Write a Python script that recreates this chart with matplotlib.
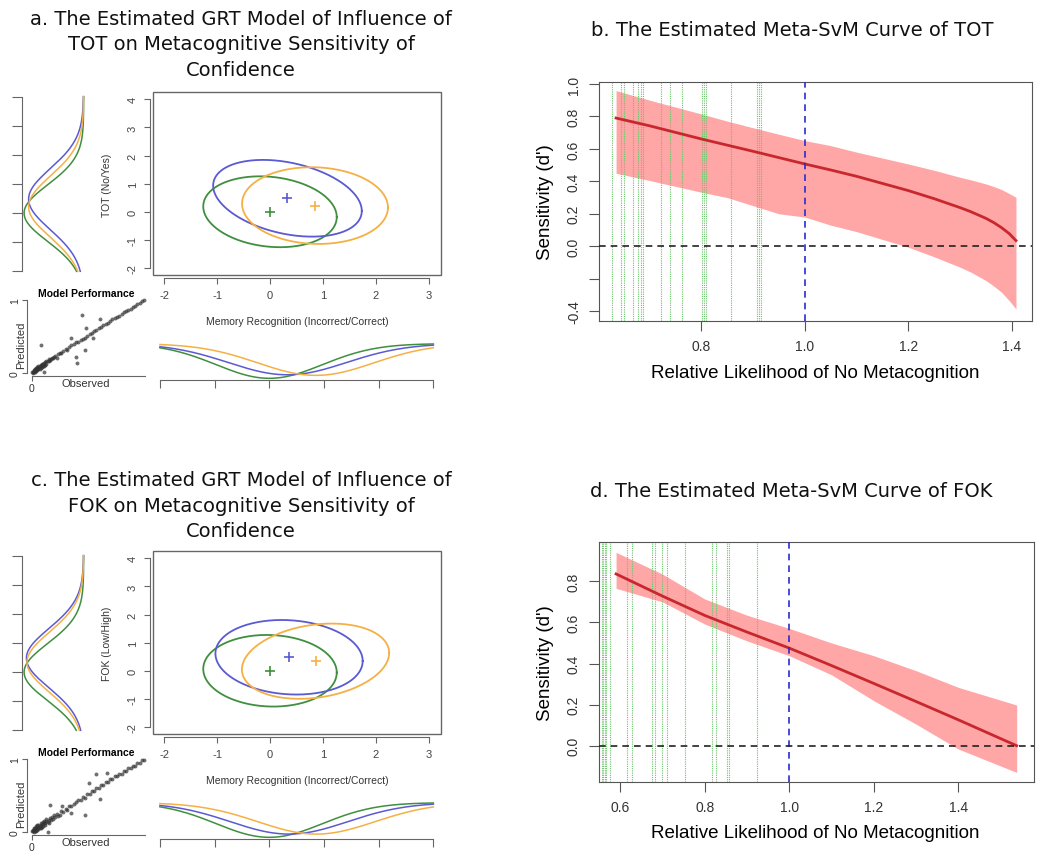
import numpy as np
import matplotlib
matplotlib.use('Agg')
import matplotlib.pyplot as plt
from matplotlib.patches import Rectangle

plt.rcParams['font.family'] = ['Liberation Sans', 'DejaVu Sans']
plt.rcParams['axes.unicode_minus'] = False

# ---- GRT model parameters (green, blue, orange) ----
grt_colors = ['#3f8f3f', '#5a5ad2', '#f5b045']
a_mx = [0.00, 0.33, 0.85]
a_my = [0.00, 0.48, 0.22]
a_sx = [0.97, 1.08, 1.06]
a_sy = [0.97, 1.05, 1.05]
a_rho = [-0.15, -0.33, -0.05]

c_mx = [0.00, 0.36, 0.86]
c_my = [0.00, 0.48, 0.34]
c_sx = [0.97, 1.07, 1.07]
c_sy = [0.98, 1.02, 1.03]
c_rho = [-0.05, -0.10, 0.22]

# model performance: observed vs predicted
a_obs = [0.00, 0.01, 0.01, 0.02, 0.02, 0.02, 0.03, 0.03, 0.03, 0.04,
         0.04, 0.04, 0.05, 0.05, 0.05, 0.06, 0.06, 0.06, 0.07, 0.07,
         0.08, 0.08, 0.08, 0.09, 0.09, 0.10, 0.10, 0.11, 0.11, 0.12,
         0.12, 0.13, 0.13, 0.14, 0.15, 0.15, 0.16, 0.17, 0.18, 0.19,
         0.20, 0.21, 0.22, 0.23, 0.25, 0.26, 0.28, 0.30, 0.31, 0.33,
         0.35, 0.37, 0.39, 0.41, 0.43, 0.45, 0.47, 0.49, 0.51, 0.53,
         0.55, 0.57, 0.59, 0.61, 0.63, 0.65, 0.67, 0.69, 0.71, 0.73,
         0.75, 0.77, 0.79, 0.81, 0.83, 0.85, 0.87, 0.89, 0.91, 0.93,
         0.95, 0.97, 0.99, 0.44, 0.08, 0.48, 0.39, 0.40, 0.35, 0.54,
         0.47, 0.11, 0.60]
a_pred = [0.01, 0.02, 0.00, 0.04, 0.01, 0.03, 0.05, 0.02, 0.04, 0.07,
          0.03, 0.05, 0.08, 0.04, 0.06, 0.09, 0.05, 0.07, 0.10, 0.06,
          0.11, 0.07, 0.09, 0.12, 0.08, 0.13, 0.09, 0.14, 0.10, 0.15,
          0.11, 0.16, 0.12, 0.17, 0.16, 0.19, 0.18, 0.19, 0.20, 0.21,
          0.22, 0.23, 0.21, 0.26, 0.27, 0.28, 0.30, 0.33, 0.31, 0.36,
          0.38, 0.40, 0.42, 0.43, 0.45, 0.47, 0.48, 0.51, 0.53, 0.55,
          0.57, 0.59, 0.61, 0.63, 0.66, 0.67, 0.69, 0.71, 0.74, 0.75,
          0.77, 0.78, 0.81, 0.83, 0.85, 0.86, 0.88, 0.90, 0.92, 0.94,
          0.96, 0.98, 1.00, 0.80, 0.38, 0.61, 0.22, 0.14, 0.48, 0.48,
          0.31, 0.01, 0.74]
c_obs = [0.00, 0.01, 0.01, 0.02, 0.02, 0.02, 0.03, 0.03, 0.03, 0.04,
         0.04, 0.04, 0.05, 0.05, 0.05, 0.06, 0.06, 0.06, 0.07, 0.07,
         0.08, 0.08, 0.08, 0.09, 0.09, 0.10, 0.10, 0.11, 0.11, 0.12,
         0.12, 0.13, 0.13, 0.14, 0.15, 0.15, 0.16, 0.17, 0.18, 0.19,
         0.20, 0.21, 0.22, 0.23, 0.25, 0.26, 0.28, 0.30, 0.31, 0.33,
         0.35, 0.37, 0.39, 0.41, 0.43, 0.45, 0.47, 0.49, 0.51, 0.53,
         0.55, 0.57, 0.59, 0.61, 0.63, 0.65, 0.67, 0.69, 0.71, 0.73,
         0.75, 0.77, 0.79, 0.81, 0.83, 0.85, 0.87, 0.89, 0.91, 0.93,
         0.95, 0.97, 0.99, 0.57, 0.66, 0.16, 0.27, 0.47, 0.35, 0.50,
         0.14, 0.60]
c_pred = [0.02, 0.01, 0.03, 0.03, 0.00, 0.05, 0.04, 0.01, 0.06, 0.05,
          0.02, 0.08, 0.06, 0.03, 0.09, 0.07, 0.04, 0.10, 0.08, 0.05,
          0.10, 0.06, 0.12, 0.11, 0.07, 0.14, 0.08, 0.12, 0.15, 0.13,
          0.10, 0.15, 0.18, 0.14, 0.17, 0.13, 0.19, 0.16, 0.21, 0.18,
          0.23, 0.20, 0.25, 0.22, 0.24, 0.29, 0.27, 0.32, 0.30, 0.35,
          0.36, 0.39, 0.41, 0.44, 0.44, 0.48, 0.46, 0.52, 0.52, 0.56,
          0.56, 0.60, 0.60, 0.64, 0.65, 0.68, 0.68, 0.72, 0.73, 0.76,
          0.76, 0.79, 0.80, 0.84, 0.84, 0.87, 0.87, 0.91, 0.91, 0.95,
          0.95, 0.99, 0.99, 0.80, 0.81, 0.37, 0.35, 0.24, 0.26, 0.67,
          0.00, 0.45]

# ---- Meta-SvM curves ----
b_x = [0.635, 0.70, 0.80, 0.85, 0.90, 0.95, 1.00, 1.05, 1.10, 1.20, 1.25, 1.30, 1.32, 1.35, 1.365, 1.38, 1.395, 1.408]
b_fit = [0.79, 0.742, 0.661, 0.623, 0.585, 0.546, 0.507, 0.47, 0.431, 0.343, 0.293, 0.238, 0.214, 0.172, 0.146, 0.115, 0.078, 0.035]
b_hi = [0.959, 0.90, 0.815, 0.771, 0.73, 0.69, 0.651, 0.62, 0.58, 0.507, 0.468, 0.425, 0.41, 0.384, 0.368, 0.35, 0.325, 0.302]
b_lo = [0.45, 0.405, 0.333, 0.30, 0.25, 0.20, 0.18, 0.13, 0.09, -0.006, -0.065, -0.129, -0.158, -0.211, -0.245, -0.283, -0.335, -0.386]
b_green = [0.628, 0.645, 0.651, 0.668, 0.678, 0.683, 0.688, 0.721, 0.740, 0.763,
           0.802, 0.805, 0.808, 0.858, 0.907, 0.912, 0.915]

d_x = [0.59, 0.70, 0.80, 0.90, 1.00, 1.10, 1.20, 1.30, 1.40, 1.538]
d_fit = [0.836, 0.728, 0.634, 0.553, 0.475, 0.39, 0.303, 0.215, 0.126, 0.0]
d_hi = [0.941, 0.835, 0.714, 0.635, 0.571, 0.50, 0.438, 0.365, 0.284, 0.198]
d_lo = [0.766, 0.70, 0.592, 0.51, 0.438, 0.345, 0.219, 0.105, -0.016, -0.13]
d_green = [0.557, 0.560, 0.563, 0.566, 0.576, 0.617, 0.627, 0.676, 0.682, 0.699,
           0.710, 0.752, 0.817, 0.826, 0.852, 0.857, 0.924]

W, H = 1060, 854
fig = plt.figure(figsize=(10.6, 8.54), dpi=100)


def rect(l, t, r, b):
    return [l / W, 1 - b / H, (r - l) / W, (b - t) / H]


def ftext(x, y, s, **kw):
    fig.text(x / W, 1 - y / H, s, ha='center', va='center', **kw)


def pdf(v, m, s):
    return np.exp(-0.5 * ((v - m) / s) ** 2) / (s * np.sqrt(2 * np.pi))


def grt_panel(dy, mx, my, sx, sy, rho, ylab, obs, pred):
    # ellipses
    ax = fig.add_axes(rect(153, 93.3 + dy, 441, 276 + dy))
    t = np.linspace(0, 2 * np.pi, 300)
    for i, col in enumerate(grt_colors):
        cov = np.array([[sx[i] ** 2, rho[i] * sx[i] * sy[i]],
                        [rho[i] * sx[i] * sy[i], sy[i] ** 2]])
        pts = 1.3 * np.linalg.cholesky(cov) @ np.vstack([np.cos(t), np.sin(t)])
        ax.plot(mx[i] + pts[0], my[i] + pts[1], color=col, lw=1.3)
        ax.plot(mx[i], my[i], '+', color=col, ms=7, mew=1.2)
    ax.set_xlim(-2.21, 3.23)
    ax.set_ylim(-2.25, 4.25)
    ax.add_patch(Rectangle((0, 0), 1, 1, transform=ax.transAxes, fill=False,
                           ec='#666666', lw=1.0, clip_on=False))
    for s in ['top', 'right']:
        ax.spines[s].set_visible(False)
    for s in ['left', 'bottom']:
        ax.spines[s].set_position(('outward', 2))
        ax.spines[s].set_color('#666666')
    ax.spines['bottom'].set_bounds(-2, 3)
    ax.spines['left'].set_bounds(-2, 4)
    ax.set_xticks(range(-2, 4))
    ax.set_yticks(range(-2, 5))
    ax.tick_params(length=4, color='#666666', labelcolor='#444444', labelsize=8, pad=5)
    ax.tick_params(axis='y', labelrotation=90)
    for lab in ax.get_yticklabels():
        lab.set_va('center')
    ftext(107, 185 + dy, ylab, rotation=90, fontsize=7.5, color='#333333')
    ftext(297, 322 + dy, 'Memory Recognition (Incorrect/Correct)', fontsize=7.5, color='#333333')

    # left marginal
    am = fig.add_axes(rect(21.7, 90.7 + dy, 86, 279.3 + dy))
    yy = np.linspace(-2, 4, 200)
    dens = [pdf(yy, my[i], sy[i]) for i in range(3)]
    lo = min(d.min() for d in dens)
    hi = max(d.max() for d in dens)
    pad = 0.04 * (hi - lo)
    for d, col in zip(dens, grt_colors):
        am.plot(d, yy, color=col, lw=1.1)
    am.set_xlim(hi + pad, lo - pad)
    am.set_ylim(-2.24, 4.24)
    for s in ['top', 'right', 'bottom']:
        am.spines[s].set_visible(False)
    am.spines['left'].set_bounds(-2, 4)
    am.spines['left'].set_color('#666666')
    am.set_xticks([])
    am.set_yticks(range(-2, 5))
    am.set_yticklabels([])
    am.tick_params(axis='y', length=7, color='#666666')
    am.patch.set_alpha(0)

    # bottom marginal
    ab = fig.add_axes(rect(149, 343.6 + dy, 444.3, 380.7 + dy))
    xx = np.linspace(-2, 3, 200)
    dens = [pdf(xx, mx[i], sx[i]) for i in range(3)]
    lo = min(d.min() for d in dens)
    hi = max(d.max() for d in dens)
    pad = 0.04 * (hi - lo)
    for d, col in zip(dens, grt_colors):
        ab.plot(xx, d, color=col, lw=1.1)
    ab.set_xlim(-2.2, 3.2)
    ab.set_ylim(hi + pad, lo - pad)
    for s in ['top', 'right', 'left']:
        ab.spines[s].set_visible(False)
    ab.spines['bottom'].set_bounds(-2, 3)
    ab.spines['bottom'].set_color('#666666')
    ab.set_yticks([])
    ab.set_xticks(range(-2, 4))
    ab.set_xticklabels([])
    ab.tick_params(axis='x', length=6, color='#666666')
    ab.patch.set_alpha(0)

    # model performance
    sc = fig.add_axes(rect(27, 298 + dy, 150, 377 + dy))
    sc.scatter(obs, pred, s=8, color='#333333', alpha=0.7, lw=0)
    sc.set_xlim(-0.04, 1.04)
    sc.set_ylim(-0.04, 1.04)
    for s in ['top', 'right']:
        sc.spines[s].set_visible(False)
    for s in ['left', 'bottom']:
        sc.spines[s].set_color('#666666')
        sc.spines[s].set_bounds(0, 1)
    sc.set_xticks([0])
    sc.set_yticks([0, 1])
    sc.tick_params(length=3.5, color='#666666', labelcolor='#333333', labelsize=7.5, pad=1.5)
    sc.tick_params(axis='y', labelrotation=90)
    for lab in sc.get_yticklabels():
        lab.set_va('center')
    sc.patch.set_alpha(0)
    ftext(86, 294 + dy, 'Model Performance', fontsize=7.5, fontweight='bold')
    ftext(86, 384 + dy, 'Observed', fontsize=8, color='#333333')
    ftext(20.7, 345 + dy, 'Predicted', rotation=90, fontsize=8, color='#333333')


def meta_panel(top, bottom, right, xlim, ylim, xs, fit, lo, hi, greens,
               xticks, yticks, ylabels, xlab_y):
    ax = fig.add_axes(rect(599, top, right, bottom))
    ax.fill_between(xs, lo, hi, color='#ffa6a6', lw=0, zorder=1)
    for g in greens:
        ax.axvline(g, color='#6cc46c', lw=0.8, ls=(0, (1, 1)), zorder=2)
    ax.plot(xs, fit, color='#c8282d', lw=2, zorder=3)
    ax.axvline(1.0, color='#2b2bd0', lw=1.2, ls=(0, (4, 3)), zorder=4)
    ax.axhline(0, color='#222222', lw=1.2, ls=(0, (4, 3)), zorder=4)
    ax.set_xlim(*xlim)
    ax.set_ylim(*ylim)
    ax.set_xticks(xticks)
    ax.set_xticklabels(['%.1f' % v for v in xticks])
    ax.set_yticks(yticks)
    ax.set_yticklabels(ylabels)
    for s in ax.spines.values():
        s.set_color('#555555')
    ax.tick_params(length=7, color='#555555', labelcolor='#333333', labelsize=10, pad=6)
    ax.tick_params(axis='y', labelrotation=90)
    for lab in ax.get_yticklabels():
        lab.set_va('center')
    ftext(545.7, (top + bottom) / 2, "Sensitivity (d')", rotation=90, fontsize=13.5)
    ftext(815.5, xlab_y, 'Relative Likelihood of No Metacognition', fontsize=13.5)


grt_panel(0, a_mx, a_my, a_sx, a_sy, a_rho, 'TOT (No/Yes)', a_obs, a_pred)
grt_panel(459, c_mx, c_my, c_sx, c_sy, c_rho, 'FOK (Low/High)', c_obs, c_pred)

meta_panel(82.7, 321.6, 1032, (0.602, 1.439), (-0.458, 1.014), b_x, b_fit, b_lo, b_hi, b_green,
           [0.8, 1.0, 1.2, 1.4], [-0.4, -0.2, 0.0, 0.2, 0.4, 0.6, 0.8, 1.0],
           ['-0.4', '', '0.0', '0.2', '0.4', '0.6', '0.8', '1.0'], 373.3)
meta_panel(543.3, 783.4, 1034, (0.5496, 1.579), (-0.1785, 0.99), d_x, d_fit, d_lo, d_hi, d_green,
           [0.6, 0.8, 1.0, 1.2, 1.4], [0.0, 0.2, 0.4, 0.6, 0.8],
           ['0.0', '0.2', '0.4', '0.6', '0.8'], 833.3)

title_kw = dict(family='DejaVu Sans', fontsize=14, color='#111111', linespacing=1.45)
ftext(241, 45, 'a. The Estimated GRT Model of Influence of\nTOT on Metacognitive Sensitivity of\nConfidence', **title_kw)
ftext(241, 506, 'c. The Estimated GRT Model of Influence of\nFOK on Metacognitive Sensitivity of\nConfidence', **title_kw)
ftext(792, 30, 'b. The Estimated Meta-SvM Curve of TOT', **title_kw)
ftext(791, 492, 'd. The Estimated Meta-SvM Curve of FOK', **title_kw)

fig.savefig('out.png', dpi=100)
